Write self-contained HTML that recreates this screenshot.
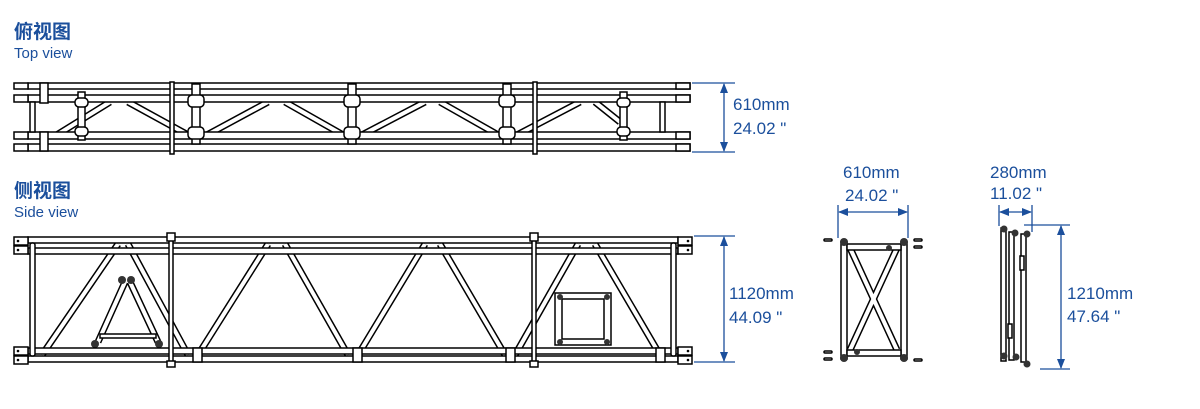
<!DOCTYPE html>
<html><head><meta charset="utf-8"><style>
html,body{margin:0;padding:0;background:#fff;width:1200px;height:409px;overflow:hidden}
svg{display:block}
.h{font-family:"Liberation Sans","Noto Sans CJK SC",sans-serif;fill:#1b4f9c;font-weight:bold;font-size:19px}
.s{font-family:"Liberation Sans",sans-serif;fill:#1b4f9c;font-size:15px}
.d{font-family:"Liberation Sans",sans-serif;fill:#1b4f9c;font-size:17px}
.dl{stroke:#1b4f9c;stroke-width:1.3;fill:none}
.t{fill:#fff;stroke:#000;stroke-width:1.5}
.o{stroke:#000;stroke-width:7;stroke-linecap:butt}
.i{stroke:#fff;stroke-width:4;stroke-linecap:butt}
</style></head><body>
<svg width="1200" height="409" viewBox="0 0 1200 409">
<defs>
<marker id="a" markerWidth="10" markerHeight="10" refX="9" refY="5" orient="auto-start-reverse" markerUnits="userSpaceOnUse"><path d="M0,1 L10,5 L0,9 z" fill="#1b4f9c"/></marker>
</defs>
<text class="h" x="14" y="38">俯视图</text>
<text class="s" x="14" y="58">Top view</text>
<text class="h" x="14" y="197">侧视图</text>
<text class="s" x="14" y="217">Side view</text>

<!-- TOP VIEW -->
<g>
<g class="o"><line x1="55" y1="136" x2="110" y2="102"/><line x1="128" y1="102" x2="190" y2="136"/><line x1="205" y1="136" x2="268" y2="102"/><line x1="285" y1="102" x2="345" y2="136"/><line x1="360" y1="136" x2="425" y2="102"/><line x1="440" y1="102" x2="500" y2="136"/><line x1="515" y1="136" x2="580" y2="102"/><line x1="595" y1="102" x2="620" y2="122"/></g>
<g class="i"><line x1="55" y1="136" x2="110" y2="102"/><line x1="128" y1="102" x2="190" y2="136"/><line x1="205" y1="136" x2="268" y2="102"/><line x1="285" y1="102" x2="345" y2="136"/><line x1="360" y1="136" x2="425" y2="102"/><line x1="440" y1="102" x2="500" y2="136"/><line x1="515" y1="136" x2="580" y2="102"/><line x1="595" y1="102" x2="620" y2="122"/></g>
<rect class="t" x="28" y="83" width="662" height="6"/>
<rect class="t" x="28" y="95" width="662" height="7"/>
<rect class="t" x="28" y="132" width="662" height="7"/>
<rect class="t" x="28" y="144" width="662" height="7"/>
<rect class="t" x="14" y="83" width="14" height="6"/><rect class="t" x="14" y="95" width="14" height="7"/>
<rect class="t" x="14" y="132" width="14" height="7"/><rect class="t" x="14" y="144" width="14" height="7"/>
<rect class="t" x="676" y="83" width="14" height="6"/><rect class="t" x="676" y="95" width="14" height="7"/>
<rect class="t" x="676" y="132" width="14" height="7"/><rect class="t" x="676" y="144" width="14" height="7"/>
<rect class="t" x="30" y="102" width="5" height="30"/>
<rect class="t" x="660" y="102" width="5" height="30"/>
<rect class="t" x="170" y="82" width="4" height="72"/>
<rect class="t" x="533" y="82" width="4" height="72"/>
<g class="t">
<rect x="40" y="83" width="8" height="20"/><rect x="40" y="132" width="8" height="19"/>
<rect x="78" y="92" width="7" height="48"/><rect x="192" y="84" width="8" height="60"/><rect x="348" y="84" width="8" height="60"/><rect x="503" y="84" width="8" height="60"/><rect x="620" y="92" width="7" height="48"/>
<rect x="188" y="95" width="16" height="12" rx="4"/><rect x="188" y="127" width="16" height="12" rx="4"/>
<rect x="344" y="95" width="16" height="12" rx="4"/><rect x="344" y="127" width="16" height="12" rx="4"/>
<rect x="499" y="95" width="16" height="12" rx="4"/><rect x="499" y="127" width="16" height="12" rx="4"/>
<rect x="75" y="98" width="13" height="9" rx="4"/><rect x="75" y="127" width="13" height="9" rx="4"/>
<rect x="617" y="98" width="13" height="9" rx="4"/><rect x="617" y="127" width="13" height="9" rx="4"/>
</g>
</g>
<line class="dl" x1="692" y1="83" x2="735" y2="83"/><line class="dl" x1="692" y1="152" x2="735" y2="152"/>
<line class="dl" x1="724" y1="84" x2="724" y2="151" marker-start="url(#a)" marker-end="url(#a)"/>
<text class="d" x="733" y="110">610mm</text><text class="d" x="733" y="134">24.02 "</text>

<!-- SIDE VIEW -->
<g>
<g class="o"><line x1="42" y1="355" x2="118" y2="244"/><line x1="128" y1="244" x2="188" y2="355"/><line x1="198" y1="355" x2="268" y2="244"/><line x1="285" y1="244" x2="348" y2="355"/><line x1="358" y1="355" x2="425" y2="244"/><line x1="440" y1="244" x2="505" y2="355"/><line x1="515" y1="355" x2="578" y2="244"/><line x1="595" y1="244" x2="660" y2="355"/>
<line x1="98" y1="342" x2="125" y2="282"/><line x1="130" y1="282" x2="158" y2="342"/></g>
<g class="i"><line x1="42" y1="355" x2="118" y2="244"/><line x1="128" y1="244" x2="188" y2="355"/><line x1="198" y1="355" x2="268" y2="244"/><line x1="285" y1="244" x2="348" y2="355"/><line x1="358" y1="355" x2="425" y2="244"/><line x1="440" y1="244" x2="505" y2="355"/><line x1="515" y1="355" x2="578" y2="244"/><line x1="595" y1="244" x2="660" y2="355"/>
<line x1="98" y1="342" x2="125" y2="282"/><line x1="130" y1="282" x2="158" y2="342"/></g>
<rect class="t" x="100" y="334" width="56" height="4"/>
<g fill="#333"><circle cx="122" cy="280" r="4"/><circle cx="131" cy="280" r="4"/><circle cx="95" cy="344" r="4"/><circle cx="159" cy="344" r="4"/></g>
<rect class="t" x="28" y="237" width="650" height="6"/>
<rect class="t" x="28" y="248" width="650" height="6"/>
<rect class="t" x="28" y="348" width="650" height="6"/>
<rect class="t" x="28" y="356" width="650" height="6"/>
<rect class="t" x="30" y="243" width="5" height="113" rx="2"/>
<rect class="t" x="671" y="243" width="5" height="113" rx="2"/>
<rect class="t" x="169" y="237" width="4" height="125"/>
<rect class="t" x="532" y="237" width="4" height="125"/>
<g class="t"><rect x="14" y="237" width="14" height="8"/><rect x="14" y="246" width="14" height="8"/><rect x="14" y="347" width="14" height="8"/><rect x="14" y="356" width="14" height="8"/>
<rect x="678" y="237" width="14" height="8"/><rect x="678" y="246" width="14" height="8"/><rect x="678" y="347" width="14" height="8"/><rect x="678" y="356" width="14" height="8"/>
<rect x="167" y="233" width="8" height="8"/><rect x="530" y="233" width="8" height="8"/><rect x="167" y="361" width="8" height="6"/><rect x="530" y="361" width="8" height="6"/>
<rect x="193" y="348" width="9" height="14"/><rect x="353" y="348" width="9" height="14"/><rect x="506" y="348" width="9" height="14"/><rect x="656" y="348" width="9" height="14"/>
<rect x="555" y="293" width="56" height="52"/><rect x="562" y="299" width="42" height="40"/></g>
<g fill="#000"><circle cx="18" cy="241" r="1.3"/><circle cx="18" cy="250" r="1.3"/><circle cx="18" cy="351" r="1.3"/><circle cx="18" cy="360" r="1.3"/><circle cx="688" cy="241" r="1.3"/><circle cx="688" cy="250" r="1.3"/><circle cx="688" cy="351" r="1.3"/><circle cx="688" cy="360" r="1.3"/></g>
<g fill="#333"><circle cx="560" cy="297" r="3"/><circle cx="607" cy="297" r="3"/><circle cx="560" cy="342" r="3"/><circle cx="607" cy="342" r="3"/></g>
</g>
<line class="dl" x1="694" y1="236" x2="735" y2="236"/><line class="dl" x1="694" y1="362" x2="735" y2="362"/>
<line class="dl" x1="724" y1="237" x2="724" y2="361" marker-start="url(#a)" marker-end="url(#a)"/>
<text class="d" x="729" y="299">1120mm</text><text class="d" x="729" y="323">44.09 "</text>

<!-- END VIEW 1 -->
<g>
<g class="o"><line x1="850" y1="248" x2="897" y2="350"/><line x1="897" y1="248" x2="850" y2="350"/></g>
<g class="i"><line x1="850" y1="248" x2="897" y2="350"/><line x1="897" y1="248" x2="850" y2="350"/></g>
<rect class="t" x="841" y="242" width="6" height="117"/>
<rect class="t" x="901" y="242" width="6" height="117"/>
<rect class="t" x="847" y="244" width="54" height="6"/>
<rect class="t" x="847" y="350" width="54" height="6"/>
<g fill="#333"><circle cx="844" cy="242" r="4"/><circle cx="904" cy="242" r="4"/><circle cx="844" cy="358" r="4"/><circle cx="904" cy="358" r="4"/><circle cx="889" cy="248" r="3"/><circle cx="857" cy="352" r="3"/></g>
<g class="t"><rect x="824" y="239" width="8" height="2" rx="1"/><rect x="914" y="239" width="8" height="2" rx="1"/><rect x="914" y="246" width="8" height="2" rx="1"/><rect x="824" y="351" width="8" height="2" rx="1"/><rect x="824" y="358" width="8" height="2" rx="1"/><rect x="914" y="359" width="8" height="2" rx="1"/></g>
</g>
<line class="dl" x1="838" y1="205" x2="838" y2="238"/><line class="dl" x1="908" y1="205" x2="908" y2="238"/>
<line class="dl" x1="839" y1="212" x2="907" y2="212" marker-start="url(#a)" marker-end="url(#a)"/>
<text class="d" x="843" y="178">610mm</text><text class="d" x="845" y="201">24.02 "</text>

<!-- END VIEW 2 -->
<g>
<rect class="t" x="1001" y="228" width="5" height="133"/>
<rect class="t" x="1009" y="232" width="5" height="128"/>
<rect class="t" x="1021" y="234" width="5" height="128"/>
<rect class="t" x="1020" y="256" width="4" height="14"/><rect class="t" x="1008" y="324" width="4" height="14"/>
<g fill="#333"><circle cx="1004" cy="229" r="3.5"/><circle cx="1015" cy="233" r="3.5"/><circle cx="1027" cy="234" r="3.5"/><circle cx="1004" cy="356" r="3.5"/><circle cx="1016" cy="357" r="3.5"/><circle cx="1027" cy="364" r="3.5"/></g>
</g>
<line class="dl" x1="999" y1="205" x2="999" y2="226"/><line class="dl" x1="1032" y1="205" x2="1032" y2="232"/>
<line class="dl" x1="1000" y1="212" x2="1031" y2="212" marker-start="url(#a)" marker-end="url(#a)"/>
<text class="d" x="990" y="178">280mm</text><text class="d" x="990" y="199">11.02 "</text>
<line class="dl" x1="1024" y1="225" x2="1070" y2="225"/><line class="dl" x1="1040" y1="369" x2="1070" y2="369"/>
<line class="dl" x1="1061" y1="226" x2="1061" y2="368" marker-start="url(#a)" marker-end="url(#a)"/>
<text class="d" x="1067" y="299">1210mm</text><text class="d" x="1067" y="322">47.64 "</text>
</svg>
</body></html>
